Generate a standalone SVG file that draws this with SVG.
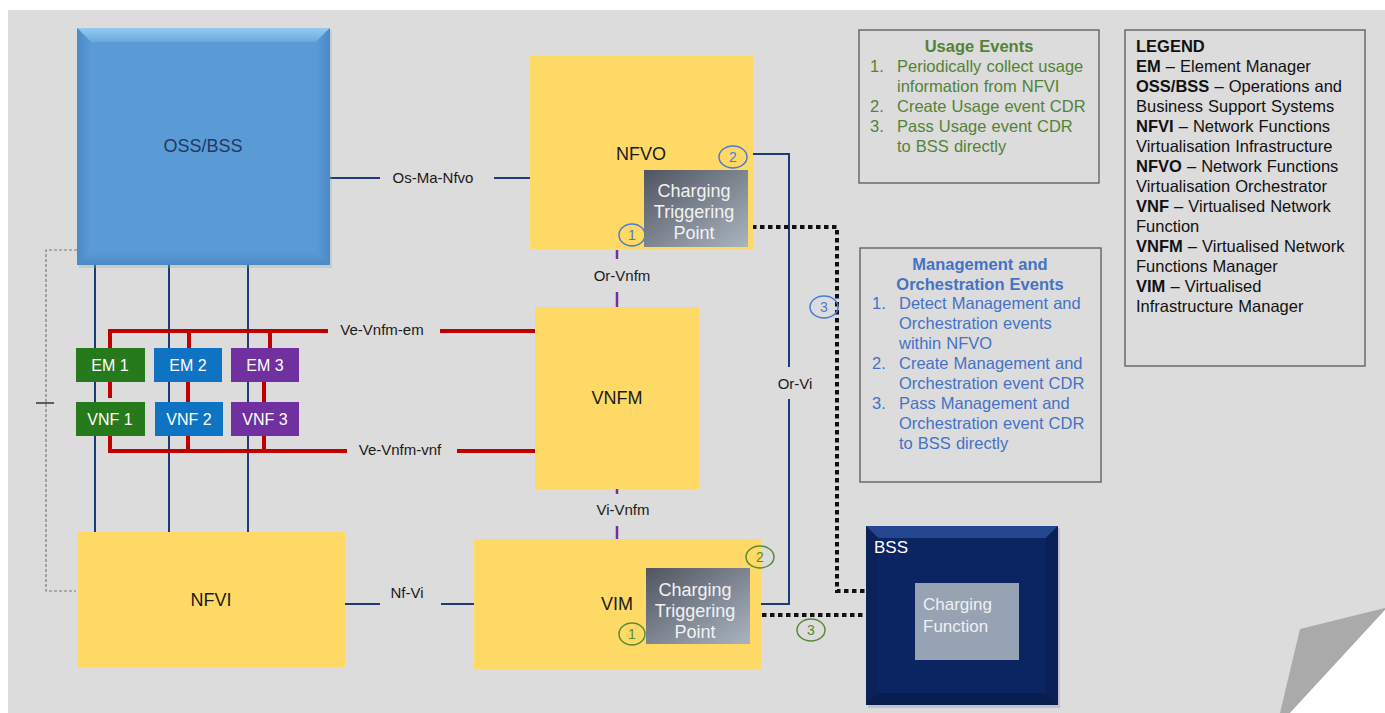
<svg xmlns="http://www.w3.org/2000/svg" width="1385" height="713" viewBox="0 0 1385 713">
<defs>
<style>
text{font-family:"Liberation Sans",Arial,sans-serif}
.lbl{font-size:15px;fill:#1a1a1a;text-anchor:middle}
.big{font-size:18px;fill:#1a1a1a;text-anchor:middle}
.ctp{font-size:18px;fill:#f2f2f2;text-anchor:middle}
.emt{font-size:16px;fill:#ffffff;text-anchor:middle}
.navy{stroke:#1f3a78;stroke-width:2;fill:none}
.red{stroke:#c00000;stroke-width:4;fill:none}
.purp{stroke:#7030a0;stroke-width:2.5;fill:none}
.dot{stroke:#111;stroke-width:4;fill:none;stroke-dasharray:4.5 3.5}
.yel{fill:#ffd966}
.cb{fill:none;stroke:#4a7bd0;stroke-width:1.5}
.cg{fill:none;stroke:#5a8a32;stroke-width:1.5}
.nb{font-size:14px;fill:#4a7bd0;text-anchor:middle}
.ng{font-size:14px;fill:#5a8a32;text-anchor:middle}
.box{fill:none;stroke:#595959;stroke-width:1.3}
.t16{font-size:16.5px;word-spacing:0.5px}
.ug{fill:#548235}
.mb{fill:#4472c4}
.lg{fill:#111}
</style>
<linearGradient id="ctpg" x1="0" y1="0" x2="1" y2="1">
<stop offset="0" stop-color="#4f5560"/>
<stop offset="1" stop-color="#aab4c1"/>
</linearGradient>
<linearGradient id="ossTop" x1="0" y1="0" x2="0" y2="1">
<stop offset="0" stop-color="#93caf2"/>
<stop offset="1" stop-color="#6aa9e0"/>
</linearGradient>
<linearGradient id="ossL" x1="0" y1="0" x2="1" y2="0">
<stop offset="0" stop-color="#4a89c6"/>
<stop offset="1" stop-color="#5b9bd5"/>
</linearGradient>
<linearGradient id="ossR" x1="1" y1="0" x2="0" y2="0">
<stop offset="0" stop-color="#4a89c6"/>
<stop offset="1" stop-color="#5b9bd5"/>
</linearGradient>
<linearGradient id="ossB" x1="0" y1="1" x2="0" y2="0">
<stop offset="0" stop-color="#4a89c6"/>
<stop offset="1" stop-color="#5b9bd5"/>
</linearGradient>
</defs>
<rect x="0" y="0" width="1385" height="713" fill="#ffffff"/>
<rect x="8" y="10" width="1377" height="703" fill="#dcdcdc"/>
<polygon points="1385,608 1300,629 1280,713 1290,713 1385,610" fill="#aaaaaa"/>
<polygon points="1385,610 1290,713 1385,713" fill="#ffffff"/>

<g id="connectors">
<path d="M77,250 H46 V591 H76" fill="none" stroke="#7a7a7a" stroke-width="1.2" stroke-dasharray="3 2"/>
<line x1="36" y1="403" x2="54" y2="403" stroke="#333" stroke-width="1.5"/>
<line class="navy" x1="95" y1="265" x2="95" y2="532"/>
<line class="navy" x1="169" y1="265" x2="169" y2="532"/>
<line class="navy" x1="248" y1="265" x2="248" y2="532"/>
<line class="navy" x1="330" y1="178" x2="380" y2="178"/>
<line class="navy" x1="494" y1="178" x2="530" y2="178"/>
<text class="lbl" x="433" y="183">Os-Ma-Nfvo</text>
<line class="navy" x1="345" y1="604" x2="380" y2="604"/>
<line class="navy" x1="441" y1="604" x2="474" y2="604"/>
<text class="lbl" x="407" y="598">Nf-Vi</text>
<path class="navy" d="M752,154 H789 V367"/>
<path class="navy" d="M789,399 V604 H761"/>
<text class="lbl" x="795" y="389">Or-Vi</text>
<path class="red" d="M110,348 V331 H328 M189,331 V348 M270,331 V348 M440,331 H535"/>
<text class="lbl" x="382" y="335">Ve-Vnfm-em</text>
<path class="red" d="M110,382 V398 M188,382 V402 M264,382 V403"/>
<path class="red" d="M110,436 V451 H347 M188,436 V451 M264,436 V451 M457,451 H535"/>
<text class="lbl" x="400" y="455">Ve-Vnfm-vnf</text>
<line class="purp" x1="617" y1="250" x2="617" y2="259"/>
<line class="purp" x1="617" y1="292" x2="617" y2="307"/>
<text class="lbl" x="622" y="281">Or-Vnfm</text>
<line class="purp" x1="617" y1="489" x2="617" y2="494"/>
<line class="purp" x1="617" y1="526" x2="617" y2="539"/>
<text class="lbl" x="623" y="515">Vi-Vnfm</text>
<path class="dot" d="M752,227 H837 V591 H866"/>
<path class="dot" d="M762,615 H866"/>
<ellipse class="cb" cx="824" cy="307" rx="14" ry="11"/>
<text class="nb" x="824" y="312">3</text>
<ellipse class="cg" cx="811" cy="630" rx="14" ry="11"/>
<text class="ng" x="811" y="635">3</text>
</g>

<g id="oss-bss">
<rect x="79" y="30" width="253" height="238" fill="#9aa4b0" opacity="0.3"/>
<rect x="77" y="28" width="253" height="237" fill="#5b9bd5"/>
<polygon points="77,28 330,28 316,42 91,42" fill="url(#ossTop)"/>
<polygon points="77,28 91,42 91,251 77,265" fill="url(#ossL)"/>
<polygon points="330,28 316,42 316,251 330,265" fill="url(#ossR)"/>
<polygon points="77,265 91,251 316,251 330,265" fill="url(#ossB)"/>
<text x="203" y="152" font-size="18" fill="#1f3864" text-anchor="middle">OSS/BSS</text>
</g>

<g id="nfvo">
<rect class="yel" x="530" y="56" width="223" height="193"/>
<text class="big" x="641" y="160">NFVO</text>
<ellipse class="cb" cx="733" cy="157" rx="14" ry="11"/>
<text class="nb" x="733" y="162">2</text>
<ellipse class="cb" cx="632" cy="235" rx="13" ry="11"/>
<text class="nb" x="632" y="240">1</text>
</g>
<g id="nfvo-ctp">
<rect x="644" y="170" width="104" height="77" fill="url(#ctpg)"/>
<text class="ctp" x="694" y="197">Charging</text>
<text class="ctp" x="694" y="218">Triggering</text>
<text class="ctp" x="694" y="239">Point</text>
</g>

<g id="vnfm">
<rect class="yel" x="535" y="307" width="164" height="182"/>
<text class="big" x="617" y="404">VNFM</text>
</g>

<g id="em1"><rect x="76" y="348" width="69" height="34" fill="#267a1c"/><text class="emt" x="110" y="371">EM 1</text></g>
<g id="em2"><rect x="154" y="348" width="68" height="34" fill="#0f73c4"/><text class="emt" x="188" y="371">EM 2</text></g>
<g id="em3"><rect x="231" y="348" width="68" height="34" fill="#7030a0"/><text class="emt" x="265" y="371">EM 3</text></g>
<g id="vnf1"><rect x="76" y="402" width="69" height="34" fill="#267a1c"/><text class="emt" x="110" y="425">VNF 1</text></g>
<g id="vnf2"><rect x="155" y="402" width="68" height="34" fill="#0f73c4"/><text class="emt" x="189" y="425">VNF 2</text></g>
<g id="vnf3"><rect x="231" y="402" width="68" height="34" fill="#7030a0"/><text class="emt" x="265" y="425">VNF 3</text></g>

<g id="nfvi">
<rect class="yel" x="78" y="532" width="267" height="135"/>
<text class="big" x="211" y="606">NFVI</text>
</g>

<g id="vim">
<rect class="yel" x="474" y="539" width="287" height="130"/>
<text class="big" x="617" y="610">VIM</text>
<ellipse class="cg" cx="760" cy="557" rx="14" ry="11"/>
<text class="ng" x="760" y="562">2</text>
<ellipse class="cg" cx="632" cy="634" rx="13" ry="11"/>
<text class="ng" x="632" y="639">1</text>
</g>
<g id="vim-ctp">
<rect x="646" y="568" width="104" height="76" fill="url(#ctpg)"/>
<text class="ctp" x="695" y="596">Charging</text>
<text class="ctp" x="695" y="617">Triggering</text>
<text class="ctp" x="695" y="638">Point</text>
</g>

<g id="bss">
<rect x="868" y="528" width="192" height="180" fill="#8a929e" opacity="0.35"/>
<rect x="866" y="526" width="192" height="179" fill="#0b2462"/>
<polygon points="866,526 1058,526 1046,538 878,538" fill="#24478f"/>
<polygon points="866,526 878,538 878,693 866,705" fill="#0a2159"/>
<polygon points="1058,526 1046,538 1046,693 1058,705" fill="#091f55"/>
<polygon points="866,705 878,693 1046,693 1058,705" fill="#091e50"/>
<text x="874" y="553" font-size="17" fill="#ffffff">BSS</text>
</g>
<g id="charging-function">
<rect x="915" y="583" width="104" height="77" fill="#97a2b2"/>
<text x="923" y="610" font-size="17" fill="#eef1f4">Charging</text>
<text x="923" y="632" font-size="17" fill="#eef1f4">Function</text>
</g>

<g id="usage-events">
<rect class="box" x="859" y="30" width="240" height="153"/>
<text class="t16 ug" x="979" y="52" text-anchor="middle" font-weight="bold">Usage Events</text>
<g class="t16 ug">
<text x="870" y="72">1.</text><text x="897" y="72">Periodically collect usage</text>
<text x="897" y="92">information from NFVI</text>
<text x="870" y="112">2.</text><text x="897" y="112">Create Usage event CDR</text>
<text x="870" y="132">3.</text><text x="897" y="132">Pass Usage event CDR</text>
<text x="897" y="152">to BSS directly</text>
</g>
</g>

<g id="mano-events">
<rect class="box" x="860" y="248" width="241" height="234"/>
<text class="t16 mb" x="980" y="270" text-anchor="middle" font-weight="bold">Management and</text>
<text class="t16 mb" x="980" y="290" text-anchor="middle" font-weight="bold">Orchestration Events</text>
<g class="t16 mb">
<text x="872" y="309">1.</text><text x="899" y="309">Detect Management and</text>
<text x="899" y="329">Orchestration events</text>
<text x="899" y="349">within NFVO</text>
<text x="872" y="369">2.</text><text x="899" y="369">Create Management and</text>
<text x="899" y="389">Orchestration event CDR</text>
<text x="872" y="409">3.</text><text x="899" y="409">Pass Management and</text>
<text x="899" y="429">Orchestration event CDR</text>
<text x="899" y="449">to BSS directly</text>
</g>
</g>

<g id="legend">
<rect class="box" x="1125" y="30" width="240" height="336"/>
<g class="t16 lg">
<text x="1136" y="52" font-weight="bold">LEGEND</text>
<text x="1136" y="72"><tspan font-weight="bold">EM</tspan> – Element Manager</text>
<text x="1136" y="92"><tspan font-weight="bold">OSS/BSS</tspan> – Operations and</text>
<text x="1136" y="112">Business Support Systems</text>
<text x="1136" y="132"><tspan font-weight="bold">NFVI</tspan> – Network Functions</text>
<text x="1136" y="152">Virtualisation Infrastructure</text>
<text x="1136" y="172"><tspan font-weight="bold">NFVO</tspan> – Network Functions</text>
<text x="1136" y="192">Virtualisation Orchestrator</text>
<text x="1136" y="212"><tspan font-weight="bold">VNF</tspan> – Virtualised Network</text>
<text x="1136" y="232">Function</text>
<text x="1136" y="252"><tspan font-weight="bold">VNFM</tspan> – Virtualised Network</text>
<text x="1136" y="272">Functions Manager</text>
<text x="1136" y="292"><tspan font-weight="bold">VIM</tspan> – Virtualised</text>
<text x="1136" y="312">Infrastructure Manager</text>
</g>
</g>
</svg>
